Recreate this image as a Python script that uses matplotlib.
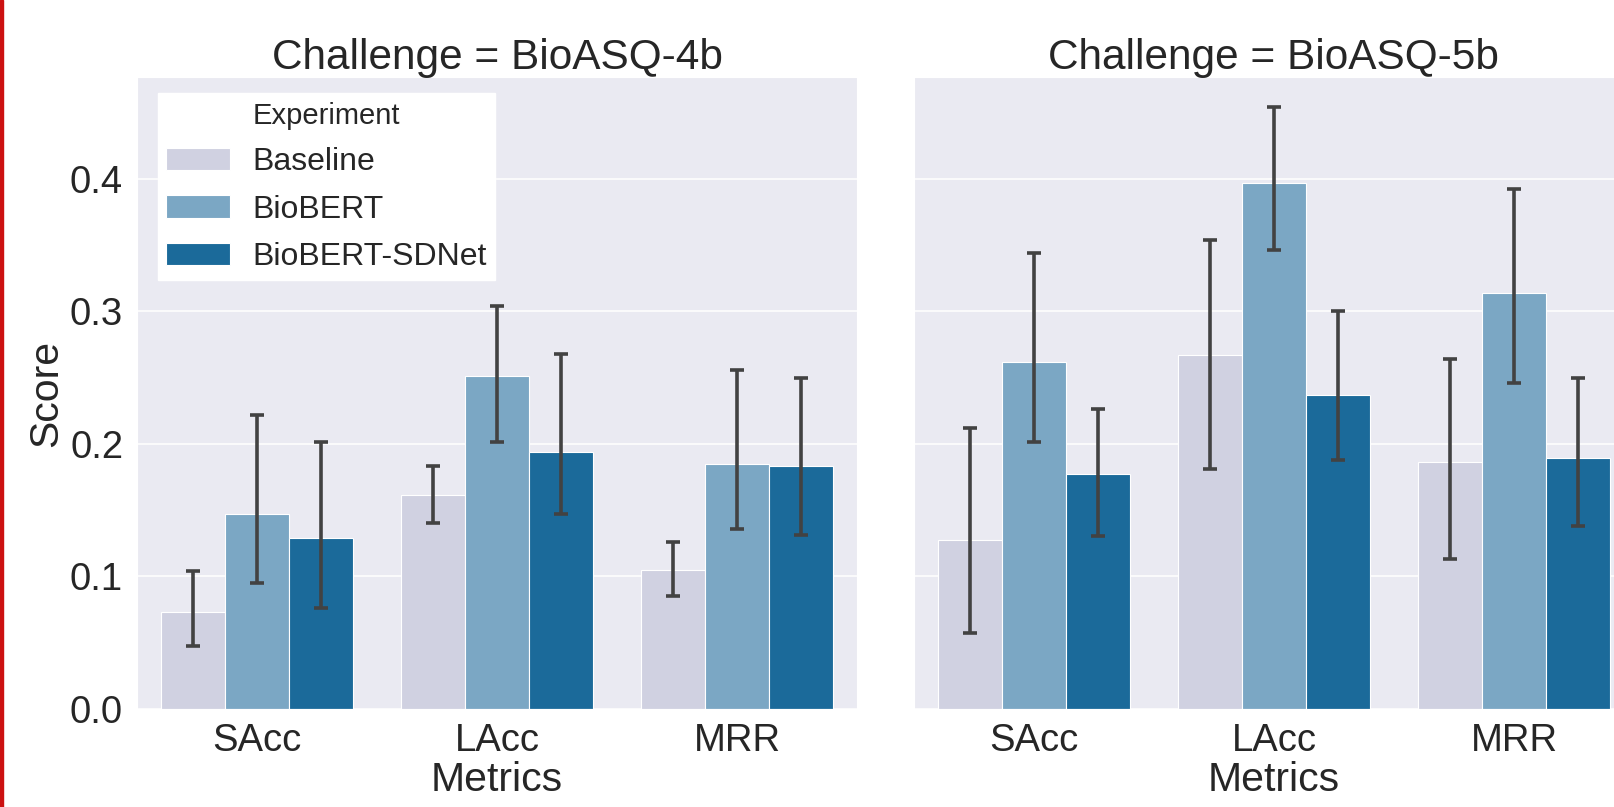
import numpy as np
import matplotlib
matplotlib.use("Agg")
import matplotlib.pyplot as plt
import seaborn as sns
from matplotlib.patches import Rectangle

metrics = ["SAcc", "LAcc", "MRR"]
experiments = ["Baseline", "BioBERT", "BioBERT-SDNet"]
challenges = ["BioASQ-4b", "BioASQ-5b"]

# mean scores, one list per experiment (SAcc, LAcc, MRR)
score_4b = [[0.073, 0.161, 0.105],
            [0.147, 0.251, 0.185],
            [0.129, 0.194, 0.183]]
low_4b = [[0.047, 0.140, 0.085],
          [0.095, 0.201, 0.136],
          [0.076, 0.147, 0.131]]
high_4b = [[0.104, 0.183, 0.126],
           [0.222, 0.304, 0.256],
           [0.201, 0.268, 0.250]]

score_5b = [[0.127, 0.267, 0.186],
            [0.262, 0.397, 0.314],
            [0.177, 0.237, 0.189]]
low_5b = [[0.057, 0.181, 0.113],
          [0.201, 0.346, 0.246],
          [0.130, 0.188, 0.138]]
high_5b = [[0.212, 0.354, 0.264],
           [0.344, 0.454, 0.392],
           [0.226, 0.300, 0.250]]

colors = ["#d0d1e1", "#7ba7c4", "#1b6a9a"]
err_color = "#424242"


def Main():
    sns.set_style("darkgrid")
    plt.rcParams['font.family'] = ['Liberation Sans', 'DejaVu Sans']

    fig = plt.figure(figsize=(16.14, 8.07), dpi=100)
    W, H = 1614.0, 807.0
    bottom = (H - 708.7) / H
    height = 631.5 / H
    ax1 = fig.add_axes([137 / W, bottom, 720 / W, height])
    ax2 = fig.add_axes([914 / W, bottom, 720 / W, height], sharey=ax1)

    data = [(score_4b, low_4b, high_4b), (score_5b, low_5b, high_5b)]
    x = np.arange(len(metrics))
    width = 0.8 / len(experiments)
    ymax = max(np.max(high_4b), np.max(high_5b)) * 1.05

    for ax, ch, (sc, lo, hi) in zip([ax1, ax2], challenges, data):
        for i, exp in enumerate(experiments):
            pos = x - 0.4 + width * (i + 0.5)
            s = np.array(sc[i])
            yerr = [s - np.array(lo[i]), np.array(hi[i]) - s]
            ax.bar(pos, s, width, color=colors[i], edgecolor='white',
                   linewidth=0.8, label=exp, zorder=2)
            ax.errorbar(pos, s, yerr=yerr, fmt='none', ecolor=err_color,
                        elinewidth=2.6, capsize=5, capthick=2.6, zorder=3)
        ax.set_xlim(-0.5, 2.5)
        ax.set_ylim(0, ymax)
        ax.set_xticks(x)
        ax.set_xticklabels(metrics, fontsize=27.5)
        ax.set_xlabel("Metrics", fontsize=29.5, labelpad=2)
        ax.set_title("Challenge = " + ch, fontsize=30.5, pad=6)
        ax.tick_params(axis='both', length=0, pad=10, labelsize=27.5)
        ax.grid(False, axis='x')
        ax.grid(True, axis='y', color='white', linewidth=1.1)
        ax.set_axisbelow(True)

    ax1.set_yticks([0.0, 0.1, 0.2, 0.3, 0.4])
    ax1.set_ylabel("Score", fontsize=29.5, labelpad=3)
    ax2.tick_params(axis='y', labelleft=False)

    handles, labels = ax1.get_legend_handles_labels()
    blank = Rectangle((0, 0), 1, 1, fc='none', ec='none')
    leg = ax1.legend([blank] + handles[:3], ["Experiment"] + labels[:3],
                     loc='upper left', bbox_to_anchor=(21 / 720, 1 - 16 / 631.5),
                     borderaxespad=0, fontsize=23, frameon=True,
                     fancybox=False, framealpha=1, edgecolor='white',
                     facecolor='white', handlelength=2.0, handleheight=0.7,
                     handletextpad=0.7, labelspacing=0.55, borderpad=0.25)
    leg.get_texts()[0].set_fontsize(21)

    # thin red border line on the left edge
    fig.patches.append(Rectangle((0, 0), 2.5 / W, 1, transform=fig.transFigure,
                                 color='#cc1111', zorder=10))

    fig.savefig("out.png", dpi=100)


if __name__ == "__main__":
    Main()
